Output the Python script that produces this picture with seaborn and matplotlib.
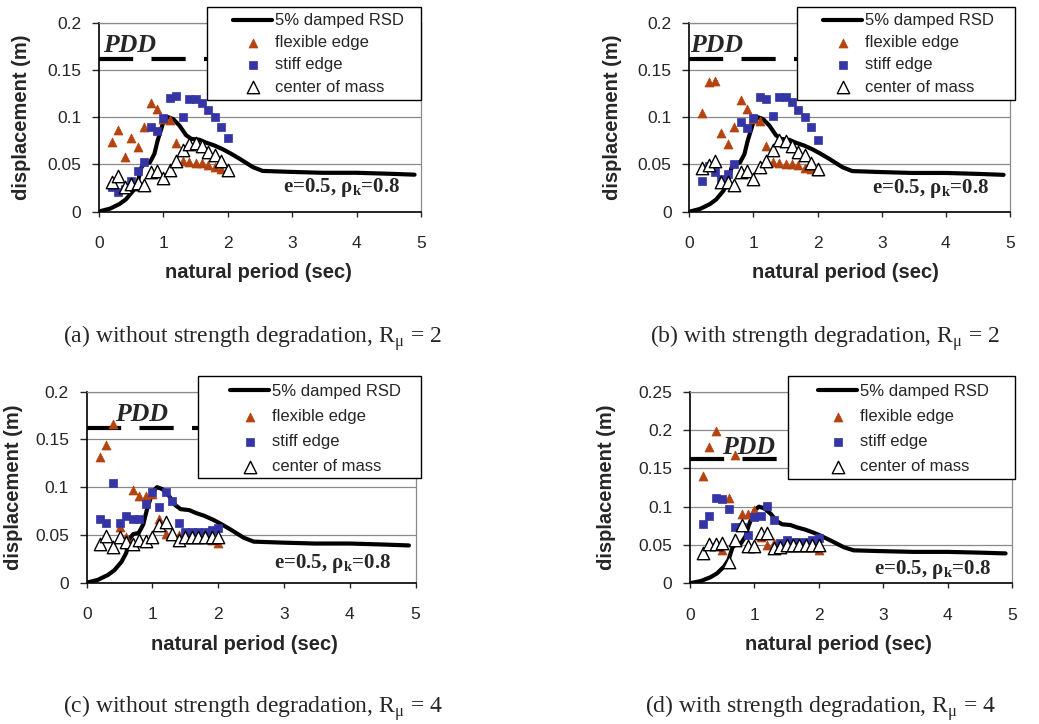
import pandas as pd
import matplotlib.pyplot as plt
import matplotlib.patches as mpatches
import seaborn as sns

sns.set_style("white")
plt.rcParams['font.family'] = ['Liberation Sans', 'DejaVu Sans']
plt.rcParams['mathtext.fontset'] = 'custom'
plt.rcParams['mathtext.rm'] = 'Liberation Serif'

# natural periods of the analysed systems (sec)
periods = [0.2, 0.3, 0.4, 0.5, 0.6, 0.7, 0.8, 0.9, 1.0, 1.1,
           1.2, 1.3, 1.4, 1.5, 1.6, 1.7, 1.8, 1.9, 2.0]

# 5% damped response spectrum
rsd_T = [0.0, 0.17, 0.32, 0.42, 0.53, 0.6, 0.66, 0.71, 0.79, 0.86, 0.91, 0.96, 1.0,
         1.07, 1.15, 1.25, 1.35, 1.43, 1.56, 1.66, 1.79, 1.92, 2.03, 2.18, 2.39,
         2.54, 2.96, 3.47, 4.0, 4.5, 4.9]
rsd_D = [0.0, 0.003, 0.008, 0.013, 0.022, 0.031, 0.047, 0.051, 0.052, 0.061, 0.075,
         0.086, 0.095, 0.1, 0.098, 0.091, 0.081, 0.077, 0.076, 0.073, 0.07, 0.066,
         0.062, 0.056, 0.047, 0.043, 0.042, 0.041, 0.041, 0.04, 0.039]

# (a) without strength degradation, R = 2
flex_a = [0.074, 0.086, 0.058, 0.078, 0.068, 0.090, 0.115, 0.109, 0.098, 0.097,
          0.073, 0.053, 0.052, 0.051, 0.051, 0.049, 0.047, 0.045, 0.044]
stiff_a = [0.026, 0.021, 0.024, 0.032, 0.043, 0.052, 0.089, 0.085, 0.099, 0.120,
           0.122, 0.100, 0.119, 0.119, 0.115, 0.108, 0.100, 0.090, 0.078]
com_a = [0.031, 0.038, 0.026, 0.029, 0.030, 0.028, 0.042, 0.043, 0.035, 0.044,
         0.053, 0.065, 0.072, 0.073, 0.069, 0.063, 0.060, 0.053, 0.044]

# (b) with strength degradation, R = 2
flex_b = [0.104, 0.137, 0.138, 0.083, 0.072, 0.090, 0.118, 0.109, 0.098, 0.096,
          0.070, 0.053, 0.052, 0.051, 0.050, 0.049, 0.046, 0.045, 0.043]
stiff_b = [0.032, 0.048, 0.042, 0.035, 0.040, 0.050, 0.095, 0.089, 0.099, 0.121,
           0.119, 0.101, 0.121, 0.121, 0.116, 0.108, 0.100, 0.090, 0.076]
com_b = [0.046, 0.049, 0.054, 0.031, 0.031, 0.028, 0.042, 0.043, 0.035, 0.047,
         0.054, 0.065, 0.076, 0.075, 0.069, 0.063, 0.060, 0.052, 0.045]

# (c) without strength degradation, R = 4
flex_c = [0.132, 0.144, 0.166, 0.058, 0.048, 0.097, 0.091, 0.091, 0.093, 0.067,
          0.051, 0.051, 0.050, 0.048, 0.048, 0.048, 0.048, 0.045, 0.042]
stiff_c = [0.067, 0.063, 0.104, 0.063, 0.070, 0.067, 0.067, 0.082, 0.095, 0.079,
           0.095, 0.086, 0.062, 0.053, 0.053, 0.053, 0.053, 0.055, 0.057]
com_c = [0.041, 0.049, 0.037, 0.048, 0.043, 0.041, 0.045, 0.044, 0.048, 0.060,
         0.064, 0.051, 0.045, 0.048, 0.048, 0.048, 0.048, 0.048, 0.048]

# (d) with strength degradation, R = 4
flex_d = [0.140, 0.178, 0.199, 0.043, 0.111, 0.167, 0.091, 0.090, 0.095, 0.061,
          0.050, 0.053, 0.049, 0.048, 0.048, 0.048, 0.048, 0.048, 0.043]
stiff_d = [0.077, 0.088, 0.111, 0.110, 0.097, 0.073, 0.073, 0.063, 0.086, 0.088,
           0.101, 0.082, 0.052, 0.057, 0.054, 0.054, 0.054, 0.057, 0.059]
com_d = [0.039, 0.051, 0.051, 0.053, 0.028, 0.057, 0.076, 0.049, 0.049, 0.065,
         0.065, 0.046, 0.048, 0.050, 0.050, 0.050, 0.050, 0.050, 0.050]

pdd_level = 0.162
x_ticks = [0, 1, 2, 3, 4, 5]
y_ticks_small = [0, 0.05, 0.1, 0.15, 0.2]
y_labels_small = ['0', '0.05', '0.1', '0.15', '0.2']
y_ticks_big = [0, 0.05, 0.1, 0.15, 0.2, 0.25]
y_labels_big = ['0', '0.05', '0.1', '0.15', '0.2', '0.25']

captions = [
    '(a) without strength degradation, R$_\\mathregular{\u03bc}$ = 2',
    '(b) with strength degradation, R$_\\mathregular{\u03bc}$ = 2',
    '(c) without strength degradation, R$_\\mathregular{\u03bc}$ = 4',
    '(d) with strength degradation, R$_\\mathregular{\u03bc}$ = 4',
]

W, H = 1039, 724
# axes boxes in pixels: left, right, top, bottom; legend frame: left, right, top, bottom
panels = [
    dict(box=(99, 421, 22.7, 211.5), flex=flex_a, stiff=stiff_a, com=com_a,
         yt=y_ticks_small, yl=y_labels_small, pdd_x=0.06, e_y=0.021,
         leg=(207, 421, 7, 100), leg_dx=26, leg_dy=6.5, spacing=0.42, cap=(63, 343),
         ylab_x=21.7, xlab=(258, 273)),
    dict(box=(689.3, 1010, 22.7, 211.7), flex=flex_b, stiff=stiff_b, com=com_b,
         yt=y_ticks_small, yl=y_labels_small, pdd_x=0.01, e_y=0.0195,
         leg=(797, 1015, 7, 100), leg_dx=26, leg_dy=6.5, spacing=0.42, cap=(650, 343),
         ylab_x=613, xlab=(845, 273)),
    dict(box=(86.7, 415.5, 391.7, 582.7), flex=flex_c, stiff=stiff_c, com=com_c,
         yt=y_ticks_small, yl=y_labels_small, pdd_x=0.43, e_y=0.015,
         leg=(198, 421, 376, 478), leg_dx=32, leg_dy=8, spacing=0.6, cap=(63, 713),
         ylab_x=14, xlab=(244, 645)),
    dict(box=(690, 1012, 391.7, 583.3), flex=flex_d, stiff=stiff_d, com=com_d,
         yt=y_ticks_big, yl=y_labels_big, pdd_x=0.49, e_y=0.012,
         leg=(788, 1015, 376, 479), leg_dx=30, leg_dy=8, spacing=0.6, cap=(645, 713),
         ylab_x=606, xlab=(838, 645)),
]

flex_color = '#B5430F'
stiff_color = '#3535A5'

fig = plt.figure(figsize=(W / 100, H / 100), dpi=100)

for p, cap in zip(panels, captions):
    l, r, t, b = p['box']
    ax = fig.add_axes([l / W, 1 - b / H, (r - l) / W, (b - t) / H])

    ax.plot([0, 5], [pdd_level, pdd_level], color='black', lw=3,
            linestyle=(0, (8.2, 4.4)), zorder=2)
    sns.lineplot(x=rsd_T, y=rsd_D, ax=ax, color='black', lw=3, sort=False,
                 estimator=None, label='5% damped RSD', zorder=3)
    sns.scatterplot(x=periods, y=p['flex'], ax=ax, marker='^', s=42,
                    color=flex_color, edgecolor=flex_color, linewidth=0.5,
                    label='flexible edge', zorder=4)
    sns.scatterplot(x=periods, y=p['stiff'], ax=ax, marker='s', s=26,
                    color=stiff_color, edgecolor=stiff_color, linewidth=0.5,
                    label='stiff edge', zorder=5)
    sns.scatterplot(x=periods, y=p['com'], ax=ax, marker='^', s=80,
                    facecolor='white', edgecolor='black', linewidth=1.0,
                    label='center of mass', zorder=6)

    ax.set_xlim(0, 5)
    ax.set_ylim(p['yt'][0], p['yt'][-1])
    ax.set_xticks(x_ticks)
    ax.set_xticklabels([str(v) for v in x_ticks])
    ax.set_yticks(p['yt'])
    ax.set_yticklabels(p['yl'])
    ax.yaxis.grid(True, color='#8a8a8a', lw=0.9)
    ax.xaxis.grid(False)
    ax.set_axisbelow(True)
    ax.tick_params(axis='y', direction='out', length=4.8, width=1, pad=8,
                   labelsize=12.5, left=True)
    ax.tick_params(axis='x', direction='out', length=3.6, width=1, pad=14,
                   labelsize=12.5, bottom=True)
    for side in ['left', 'bottom']:
        ax.spines[side].set_color('black')
        ax.spines[side].set_linewidth(1.2)
    for side in ['top', 'right']:
        ax.spines[side].set_color('#8a8a8a')
        ax.spines[side].set_linewidth(0.9)

    ax.set_xlabel('natural period (sec)', fontsize=14.5, fontweight='bold')
    ax.set_ylabel('displacement (m)', fontsize=14.5, fontweight='bold')
    ax.xaxis.set_label_coords((p['xlab'][0] - l) / (r - l), (b - p['xlab'][1]) / (b - t))
    ax.xaxis.label.set_va('center')
    ax.yaxis.set_label_coords((p['ylab_x'] - l) / (r - l), 0.5)
    ax.yaxis.label.set_va('center')

    ax.text(p['pdd_x'], 0.169, 'PDD', family='Liberation Serif', fontsize=18.5,
            fontweight='bold', style='italic', ha='left', va='baseline', zorder=7)
    ax.text(2.85, p['e_y'], 'e=0.5, \u03c1$_\\mathregular{k}$=0.8', family='Liberation Serif',
            fontsize=15, fontweight='bold', ha='left', va='baseline', zorder=7)

    # legend: white frame box plus a frameless figure legend on top of it
    handles, labels = ax.get_legend_handles_labels()
    ax.get_legend().remove()
    fx0, fx1, fy0, fy1 = p['leg']
    frame = mpatches.Rectangle((fx0 / W, 1 - fy1 / H), (fx1 - fx0) / W, (fy1 - fy0) / H,
                               transform=fig.transFigure, facecolor='white',
                               edgecolor='black', linewidth=1.0, zorder=4)
    fig.add_artist(frame)
    leg = fig.legend(handles, labels, loc='upper left',
                     bbox_to_anchor=((fx0 + p['leg_dx']) / W, 1 - (fy0 + p['leg_dy']) / H),
                     fontsize=12, frameon=False, handlelength=2.35,
                     handletextpad=0.15, labelspacing=p['spacing'],
                     borderpad=0, borderaxespad=0)
    leg.set_zorder(5)

    fig.text(p['cap'][0] / W, 1 - p['cap'][1] / H, cap, family='Liberation Serif',
             fontsize=17, ha='left', va='baseline')

fig.savefig('out.png', dpi=100)
